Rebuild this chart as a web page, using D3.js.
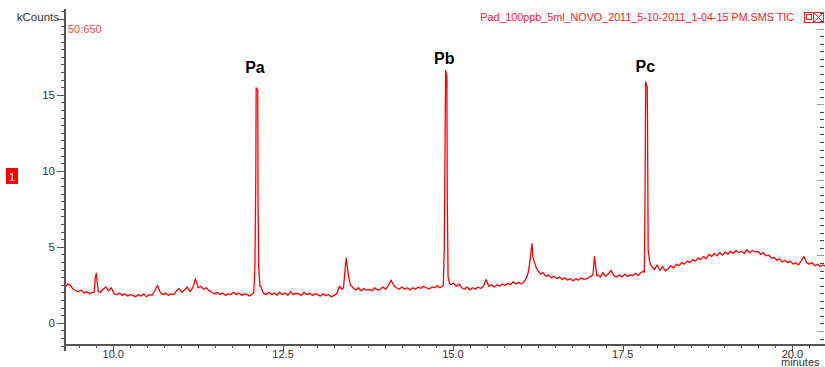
<!DOCTYPE html>
<html>
<head>
<meta charset="utf-8">
<script src="https://cdn.jsdelivr.net/npm/d3@7"></script>
<style>
body { margin: 0; background: #fff; }
svg { display: block; font-family: "Liberation Sans", Arial, sans-serif; }
</style>
</head>
<body>
<div id="chart"></div>
<script>
// TIC trace, scans every 0.04 min starting at 9.29 min (kCounts)
const scanStart = 9.29, scanStep = 0.04
const baseline = [
  2.35, 2.55, 2.45, 2.2, 2.1, 2.05, 2.15, 1.95, 2.05, 1.9,
  2.0, 2.9, 2.5, 2.0, 2.2, 2.35, 2.1, 2.3, 1.9, 1.85,
  1.95, 1.8, 1.9, 1.75, 1.85, 1.8, 1.7, 1.85, 1.75, 1.9,
  1.7, 1.85, 1.8, 2.1, 2.45, 2.0, 1.85, 1.95, 1.8, 1.9,
  1.85, 2.1, 2.25, 2.0, 2.15, 2.35, 2.05, 2.3, 2.9, 2.3,
  2.4, 2.2, 2.3, 2.1, 2.0, 1.9, 2.0, 1.85, 1.95, 1.8,
  1.9, 1.85, 2.0, 1.85, 1.95, 1.8, 1.9, 1.85, 1.75, 1.9,
  2.0, 2.4, 2.4, 1.95, 1.85, 2.0, 1.85, 1.95, 1.8, 2.0,
  1.85, 1.95, 1.8, 2.05, 1.85, 1.95, 1.9, 1.8, 2.0, 1.85,
  1.95, 1.8, 1.9, 1.85, 1.75, 1.9, 1.8, 1.85, 1.7, 1.8,
  1.9, 2.4, 2.2, 2.3, 2.5, 2.5, 2.3, 2.15, 2.3, 2.1,
  2.25, 2.15, 2.2, 2.1, 2.3, 2.15, 2.2, 2.35, 2.2, 2.45,
  2.8, 2.45, 2.3, 2.2, 2.35, 2.2, 2.3, 2.15, 2.3, 2.2,
  2.35, 2.25, 2.4, 2.3, 2.2, 2.35, 2.3, 2.45, 2.3, 2.4,
  2.5, 2.5, 2.5, 2.6, 2.4, 2.55, 2.3, 2.2, 2.35, 2.15,
  2.3, 2.2, 2.35, 2.25, 2.4, 2.85, 2.4, 2.5, 2.35, 2.5,
  2.4, 2.55, 2.45, 2.6, 2.5, 2.7, 2.55, 2.65, 2.55, 2.7,
  3.0, 3.5, 3.5, 3.5, 3.45, 3.2, 3.3, 3.05, 3.15, 2.95,
  3.05, 2.9, 3.0, 2.85, 2.95, 2.8, 2.9, 2.75, 2.9, 2.8,
  2.95, 2.85, 2.9, 3.0, 3.1, 3.5, 3.15, 3.0, 3.3, 3.05,
  3.2, 3.45, 3.1, 3.0, 3.15, 3.0, 3.2, 3.05, 3.15, 3.1,
  3.25, 3.1, 3.3, 3.4, 3.5, 3.5, 3.7, 3.5, 3.8, 3.45,
  3.7, 3.4, 3.55, 3.75, 3.6, 3.85, 3.75, 3.95, 3.85, 4.05,
  3.95, 4.15, 4.05, 4.25, 4.15, 4.35, 4.2, 4.5, 4.35, 4.55,
  4.4, 4.6, 4.45, 4.65, 4.5, 4.7, 4.55, 4.75, 4.6, 4.7,
  4.55, 4.8, 4.6, 4.75, 4.65, 4.7, 4.5, 4.6, 4.4, 4.45,
  4.25, 4.3, 4.1, 4.2, 4.0, 4.1, 3.95, 4.05, 3.85, 3.95,
  3.8, 4.05, 4.35, 3.95, 3.85, 3.95, 3.75, 3.85, 3.7, 3.8,
  3.7
]

// peaks read at finer resolution: [minutes, kCounts]
const peakSmall1 = [[9.72, 2.0], [9.735, 3.0], [9.75, 3.25], [9.765, 2.6], [9.78, 2.05]]
const peakPa = [[12.07, 2.0], [12.085, 3.5], [12.098, 9.2], [12.104, 15.45], [12.127, 15.35],
                [12.132, 7.7], [12.142, 3.6], [12.16, 2.4]]
const peakSmall2 = [[13.39, 2.3], [13.415, 3.6], [13.43, 4.25], [13.445, 3.7], [13.46, 3.2], [13.48, 2.7]]
const peakPb = [[14.86, 2.5], [14.874, 5.0], [14.888, 13.4], [14.895, 16.6], [14.912, 16.2],
                [14.918, 8.1], [14.93, 3.0], [14.95, 2.6]]
const peakSmall3 = [[16.11, 3.3], [16.14, 4.2], [16.165, 5.2], [16.18, 4.3], [16.2, 4.0], [16.23, 3.6]]
const peakSmall4 = [[17.065, 3.2], [17.085, 4.35], [17.1, 3.8], [17.12, 3.1]]
const peakPc = [[17.82, 3.3], [17.83, 8.3], [17.84, 15.85], [17.862, 15.5], [17.866, 13.6],
                [17.876, 4.8], [17.895, 4.1], [17.915, 3.8]]

const peakNames = ["Pa", "Pb", "Pc"]
const peakLabelHeights = [16.5, 17.1, 16.55]
const peakList = [peakPa, peakPb, peakPc]

const yMajor = [0, 5, 10, 15]
const xMajor = [10.0, 12.5, 15.0, 17.5, 20.0]

const width = 825, height = 367
const plot = {left: 65, right: 825, top: 9, bottom: 345.5}

const x = d3.scaleLinear().domain([9.289, 20.48]).range([plot.left, plot.right])
const y = d3.scaleLinear().domain([-1.5, 20.64]).range([plot.bottom, plot.top])
const yRight = d3.scaleLinear().domain([0, 1]).range([331, 255.4])

// merge scans with the finer peak samples
const peaks = [peakSmall1, peakPa, peakSmall2, peakPb, peakSmall3, peakSmall4, peakPc]
let trace = baseline.map((v, i) => [scanStart + i * scanStep, v])
peaks.forEach(p => {
    const t0 = p[0][0], t1 = p[p.length - 1][0]
    trace = trace.filter(d => d[0] < t0 || d[0] > t1)
})
peaks.forEach(p => trace = trace.concat(p))
trace.sort((a, b) => a[0] - b[0])

const svg = d3.select('#chart').append('svg')
    .attr('width', width)
    .attr('height', height)

const axisColor = "#555", textColor = "#333"

// trace
svg.append('path')
    .datum(trace)
    .attr('fill', 'none')
    .attr('stroke', '#ff0000')
    .attr('stroke-width', 1.3)
    .attr('stroke-linejoin', 'round')
    .attr('d', d3.line(d => x(d[0]), d => y(d[1])))

// y axis
svg.append('line')
    .attr('x1', plot.left).attr('x2', plot.left)
    .attr('y1', plot.top).attr('y2', 351)
    .attr('stroke', axisColor).attr('stroke-width', 2)

const yMinor = d3.range(-1.5, 20.6, 0.5)
svg.selectAll('.ytick')
    .data(yMinor)
    .join('line')
    .attr('class', 'ytick')
    .attr('x1', d => d % 5 === 0 ? plot.left - 8 : plot.left - 4)
    .attr('x2', plot.left)
    .attr('y1', d => Math.round(y(d)) + 0.5)
    .attr('y2', d => Math.round(y(d)) + 0.5)
    .attr('stroke', axisColor)

svg.selectAll('.ylabel')
    .data(yMajor)
    .join('text')
    .attr('class', 'ylabel')
    .attr('x', 55)
    .attr('y', d => y(d) + 4)
    .attr('text-anchor', 'end')
    .attr('font-size', 11.5)
    .attr('fill', textColor)
    .text(d => d)

svg.append('text')
    .attr('x', 59).attr('y', 21)
    .attr('text-anchor', 'end')
    .attr('font-size', 11.5)
    .attr('fill', textColor)
    .text('kCounts')

// x axis
svg.append('line')
    .attr('x1', plot.left).attr('x2', plot.right)
    .attr('y1', 345).attr('y2', 345)
    .attr('stroke', axisColor).attr('stroke-width', 2)

const xMinor = d3.range(9.5, 20.49, 0.25)
svg.selectAll('.xtick')
    .data(xMinor)
    .join('line')
    .attr('class', 'xtick')
    .attr('x1', d => Math.round(x(d)) + 0.5)
    .attr('x2', d => Math.round(x(d)) + 0.5)
    .attr('y1', 345)
    .attr('y2', d => (d * 4) % 10 === 0 ? 351 : 348)
    .attr('stroke', axisColor)

svg.selectAll('.xlabel')
    .data(xMajor)
    .join('text')
    .attr('class', 'xlabel')
    .attr('x', d => x(d))
    .attr('y', 357.5)
    .attr('text-anchor', 'middle')
    .attr('font-size', 11)
    .attr('fill', textColor)
    .text(d => d.toFixed(1))

svg.append('text')
    .attr('x', 781).attr('y', 366)
    .attr('font-size', 11)
    .attr('fill', textColor)
    .text('minutes')

// right-hand ticks
const rTicks = d3.range(-0.1, 4.25, 0.1)
svg.selectAll('.rtick')
    .data(rTicks)
    .join('line')
    .attr('class', 'rtick')
    .attr('x1', (d, i) => (i - 1) % 10 === 0 ? 817 : 820)
    .attr('x2', 824)
    .attr('y1', d => Math.round(yRight(d)) + 0.5)
    .attr('y2', d => Math.round(yRight(d)) + 0.5)
    .attr('stroke', (d, i) => (i - 1) % 10 === 0 ? '#999' : '#444')

// peak names
svg.selectAll('.peakname')
    .data(peakNames)
    .join('text')
    .attr('class', 'peakname')
    .attr('x', (d, i) => x(d3.mean(peakList[i].slice(3, 5), p => p[0])) - 2)
    .attr('y', (d, i) => y(peakLabelHeights[i]) + 1)
    .attr('text-anchor', 'middle')
    .attr('font-size', 16)
    .attr('font-weight', 'bold')
    .attr('fill', '#000')
    .text(d => d)

// header texts
svg.append('text')
    .attr('x', 68).attr('y', 33)
    .attr('font-size', 11)
    .attr('fill', '#ff4a4a')
    .text('50:650')

svg.append('text')
    .attr('x', 794).attr('y', 21)
    .attr('text-anchor', 'end')
    .attr('font-size', 10.75)
    .attr('fill', '#ff2020')
    .text('Pad_100ppb_5ml_NOVO_2011_5-10-2011_1-04-15 PM.SMS TIC')

// window buttons
const btn = svg.append('g').attr('stroke', '#ff2020').attr('fill', 'none')
btn.append('rect').attr('x', 804.5).attr('y', 12.5).attr('width', 9).attr('height', 10)
btn.append('rect').attr('x', 806.5).attr('y', 14.5).attr('width', 5).attr('height', 5)
btn.append('rect').attr('x', 813.5).attr('y', 12.5).attr('width', 10).attr('height', 10)
btn.append('path').attr('d', 'M813.5,12.5L823.5,22.5M823.5,12.5L813.5,22.5')

// trace number badge
svg.append('rect')
    .attr('x', 6).attr('y', 168).attr('width', 12).attr('height', 16)
    .attr('fill', '#ff0000')
svg.append('text')
    .attr('x', 12).attr('y', 180.5)
    .attr('text-anchor', 'middle')
    .attr('font-size', 11)
    .attr('fill', '#fff')
    .text('1')
</script>
</body>
</html>
